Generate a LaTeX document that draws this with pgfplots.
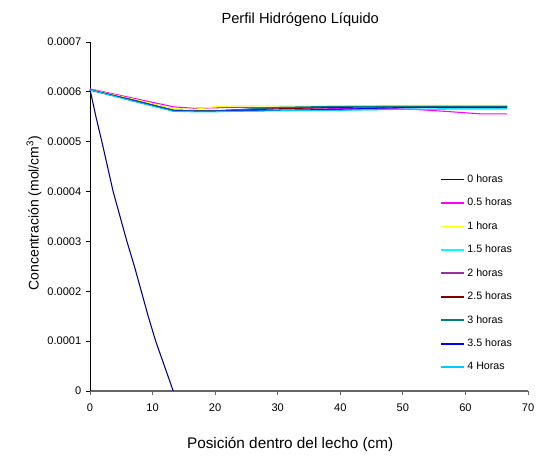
\documentclass[border=0pt]{standalone}
\usepackage{pgfplots}
\pgfplotsset{compat=1.18}
\usepackage{fontspec}
\setmainfont{Liberation Sans}
\definecolor{c0}{RGB}{0,0,128}
\definecolor{c1}{RGB}{255,0,255}
\definecolor{c2}{RGB}{255,255,0}
\definecolor{c3}{RGB}{0,255,255}
\definecolor{c4}{RGB}{153,51,153}
\definecolor{c5}{RGB}{128,0,0}
\definecolor{c6}{RGB}{0,128,128}
\definecolor{c7}{RGB}{0,0,255}
\definecolor{c8}{RGB}{0,204,255}
\begin{document}
\begin{tikzpicture}[x=1pt,y=1pt]
\begin{axis}[
  name=ax,
  at={(0,0)}, anchor=south west,
  width=328.5pt, height=261.75pt, scale only axis,
  xmin=0, xmax=70, ymin=0, ymax=0.0007,
  xtick={0,10,...,70}, ytick={0,0.0001,...,0.0007},
  axis lines*=left,
  x axis line style={gray!80!black, line width=0.8pt, -},
  y axis line style={black, line width=0.6pt, -},
  tick align=outside, major tick length=3pt,
  x tick style={gray!80!black, line width=0.6pt},
  y tick style={black, line width=0.6pt},
  scaled y ticks=false,
  yticklabel style={/pgf/number format/fixed, /pgf/number format/precision=4, font=\fontsize{8.3}{9}\selectfont},
  xticklabel style={font=\fontsize{8.3}{9}\selectfont, yshift=-3pt},
  /pgf/number format/assume math mode=true,
  title={Perfil Hidrógeno Líquido},
  title style={font=\fontsize{11}{12}\selectfont, at={(axis description cs:0.48,1)}, yshift=2pt},
  xlabel={Posición dentro del lecho (cm)},
  xlabel style={font=\fontsize{11.5}{13}\selectfont, at={(axis description cs:0.457,-0.118)}, anchor=north},
  ylabel={Concentración (mol/cm\textsuperscript{3})},
  ylabel style={font=\fontsize{10.5}{12}\selectfont, at={(axis description cs:-0.1,0.51)}, anchor=south},
  legend style={draw=none, fill=none, at={(0.799,0.047)}, anchor=south west,
    font=\fontsize{8}{9}\selectfont, row sep=6.3pt, inner sep=0pt},
  legend cell align=left,
  legend image post style={line width=1.3pt},
  every axis plot/.append style={line width=0.8pt},
  clip=false,
]
\addplot[c0] coordinates {(0,0.000605) (0.95,0.00055) (1.9,0.0005) (2.8,0.00045) (3.7,0.0004) (4.8,0.00035) (5.9,0.0003) (7.1,0.00025) (8.2,0.0002) (9.3,0.00015) (10.5,0.0001) (11.9,0.00005) (13.3,0)};
\addlegendentry{0 horas}
\addplot[c1] coordinates {(0,0.000606) (6.67,0.000588) (13.33,0.000570) (16.67,0.000567) (20,0.000568) (23.33,0.000569) (30,0.000568) (40,0.000567) (46.67,0.000567) (51.67,0.000565) (56.67,0.000561) (62.3,0.000556) (66.67,0.000556)};
\addlegendentry{0.5 horas}
\addplot[c2] coordinates {(0,0.000605) (6.67,0.000586) (13.33,0.000566) (16.67,0.000565) (20,0.000570) (23.33,0.000572) (30,0.000572) (40,0.000572) (50,0.000573) (60,0.000573) (66.67,0.000573)};
\addlegendentry{1 hora}
\addplot[c3] coordinates {(0,0.000604) (6.67,0.000584) (13.33,0.000562) (16.67,0.000561) (20,0.000561) (23.33,0.000562) (30,0.000563) (40,0.000564) (50,0.000565) (60,0.000566) (66.67,0.000566)};
\addlegendentry{1.5 horas}
\addplot[c4] coordinates {(0,0.000604) (6.67,0.000584) (13.33,0.000563) (16.67,0.000562) (20,0.000562) (23.33,0.000564) (30,0.000568) (40,0.000570) (50,0.000571) (60,0.000571) (66.67,0.000571)};
\addlegendentry{2 horas}
\addplot[c5] coordinates {(0,0.000604) (6.67,0.000584) (13.33,0.000563) (16.67,0.000562) (20,0.000562) (23.33,0.000563) (30,0.000566) (40,0.000569) (50,0.000570) (60,0.000570) (66.67,0.000570)};
\addlegendentry{2.5 horas}
\addplot[c6] coordinates {(0,0.000604) (6.67,0.000584) (13.33,0.000563) (16.67,0.000562) (20,0.000562) (23.33,0.000564) (30,0.000569) (40,0.000571) (50,0.000571) (60,0.000571) (66.67,0.000571)};
\addlegendentry{3 horas}
\addplot[c7] coordinates {(0,0.000604) (6.67,0.000583) (13.33,0.000562) (16.67,0.000561) (20,0.000561) (23.33,0.000562) (30,0.000563) (40,0.000565) (48,0.000568) (55,0.000569) (66.67,0.000569)};
\addlegendentry{3.5 horas}
\addplot[c8] coordinates {(0,0.000604) (6.67,0.000582) (13.33,0.000561) (16.67,0.000560) (20,0.000560) (23.33,0.000561) (30,0.000562) (40,0.000563) (50,0.000565) (60,0.000566) (66.67,0.000566)};
\addlegendentry{4 Horas}
\end{axis}
\path ([xshift=-67.5pt, yshift=-51pt]ax.south west) rectangle ([xshift=15pt, yshift=31.5pt]ax.north east);
\end{tikzpicture}
\end{document}
